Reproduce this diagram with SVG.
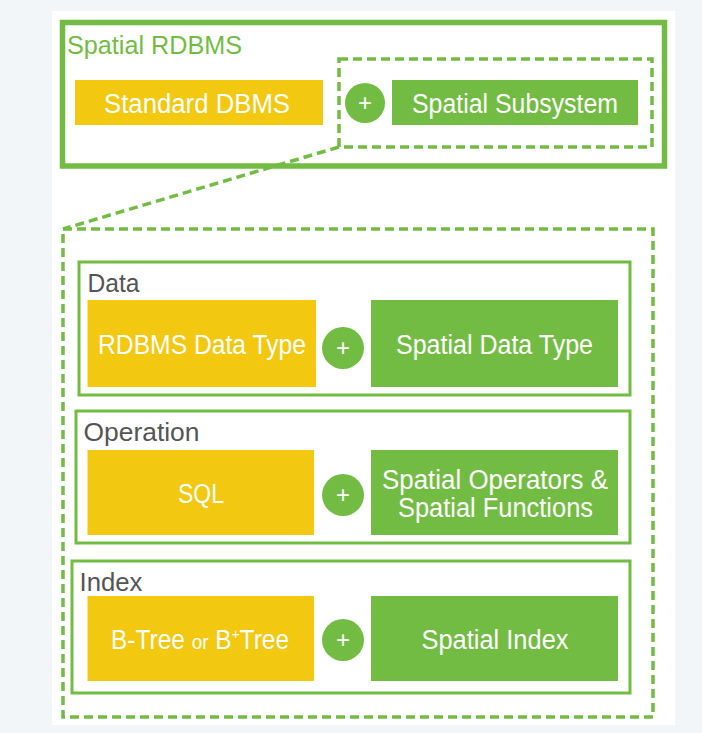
<svg xmlns="http://www.w3.org/2000/svg" width="702" height="733" viewBox="0 0 702 733">
<style>
text{font-family:"Liberation Sans",Arial,sans-serif;}
.y{fill:#f2c811;}
.g{fill:#73bc44;}
.lbl{fill:#ffffff;font-size:27px;text-anchor:middle;}
.grp{fill:none;stroke:#73bc44;stroke-width:3;}
.glbl{fill:#555555;font-size:25px;}
.dash{fill:none;stroke:#73bc44;stroke-width:3.5;stroke-dasharray:9 5;}
.plus{fill:#ffffff;font-size:24px;text-anchor:middle;}
</style>
<rect x="0" y="0" width="702" height="733" fill="#f3f6f9"/>
<rect x="52" y="11" width="623" height="714" fill="#ffffff"/>

<g id="spatial-rdbms">
<rect x="62.5" y="22.5" width="602" height="143.5" fill="none" stroke="#73bc44" stroke-width="5.5"/>
<text x="67" y="54" font-size="26" fill="#73bc44" textLength="175" lengthAdjust="spacingAndGlyphs">Spatial RDBMS</text>
</g>
<g id="standard-dbms">
<rect class="y" x="75" y="80" width="248" height="45"/>
<text class="lbl" x="197" y="113" textLength="186" lengthAdjust="spacingAndGlyphs">Standard DBMS</text>
</g>
<g id="spatial-subsystem-frame">
<rect class="dash" x="339" y="59" width="313" height="88"/>
</g>
<g id="plus-top">
<circle class="g" cx="365" cy="103" r="20"/>
<text class="plus" x="365" y="111">+</text>
</g>
<g id="spatial-subsystem">
<rect class="g" x="392" y="80" width="246" height="45"/>
<text class="lbl" x="515" y="113" textLength="206" lengthAdjust="spacingAndGlyphs">Spatial Subsystem</text>
</g>

<g id="connectors">
<line class="dash" x1="339" y1="147" x2="63" y2="229"/>
</g>

<g id="subsystem-detail">
<rect class="dash" x="63" y="229" width="590" height="488"/>
</g>

<g id="data">
<rect class="grp" x="79" y="262" width="551" height="133"/>
<text class="glbl" x="87.5" y="292" textLength="52" lengthAdjust="spacingAndGlyphs">Data</text>
</g>
<g id="rdbms-data-type">
<rect class="y" x="87.5" y="300" width="228.5" height="87"/>
<text class="lbl" x="202" y="354" textLength="208" lengthAdjust="spacingAndGlyphs">RDBMS Data Type</text>
</g>
<g id="plus-data">
<circle class="g" cx="343" cy="348" r="21"/>
<text class="plus" x="343" y="356">+</text>
</g>
<g id="spatial-data-type">
<rect class="g" x="371" y="300" width="247" height="87"/>
<text class="lbl" x="494.5" y="354" textLength="197" lengthAdjust="spacingAndGlyphs">Spatial Data Type</text>
</g>

<g id="operation">
<rect class="grp" x="76" y="411" width="554" height="132"/>
<text class="glbl" x="83.5" y="441" textLength="116" lengthAdjust="spacingAndGlyphs">Operation</text>
</g>
<g id="sql">
<rect class="y" x="87.5" y="450" width="226.5" height="85"/>
<text class="lbl" x="201" y="503" textLength="46" lengthAdjust="spacingAndGlyphs">SQL</text>
</g>
<g id="plus-operation">
<circle class="g" cx="343" cy="495" r="21"/>
<text class="plus" x="343" y="503">+</text>
</g>
<g id="spatial-operators">
<rect class="g" x="371" y="450" width="247" height="85"/>
<text class="lbl" x="495" y="489" textLength="226" lengthAdjust="spacingAndGlyphs">Spatial Operators &amp;</text>
<text class="lbl" x="495.5" y="517" textLength="195" lengthAdjust="spacingAndGlyphs">Spatial Functions</text>
</g>

<g id="index">
<rect class="grp" x="72" y="561" width="558" height="132"/>
<text class="glbl" x="79.5" y="591" textLength="63" lengthAdjust="spacingAndGlyphs">Index</text>
</g>
<g id="btree">
<rect class="y" x="87.5" y="596" width="226.5" height="85"/>
<text class="lbl" x="200" y="649" textLength="178" lengthAdjust="spacingAndGlyphs">B-Tree <tspan font-size="21">or</tspan> B<tspan font-size="15" dy="-10">+</tspan><tspan dy="10">Tree</tspan></text>
</g>
<g id="plus-index">
<circle class="g" cx="343" cy="640" r="21"/>
<text class="plus" x="343" y="648">+</text>
</g>
<g id="spatial-index">
<rect class="g" x="371" y="596" width="247" height="85"/>
<text class="lbl" x="495" y="649" textLength="147" lengthAdjust="spacingAndGlyphs">Spatial Index</text>
</g>
</svg>
